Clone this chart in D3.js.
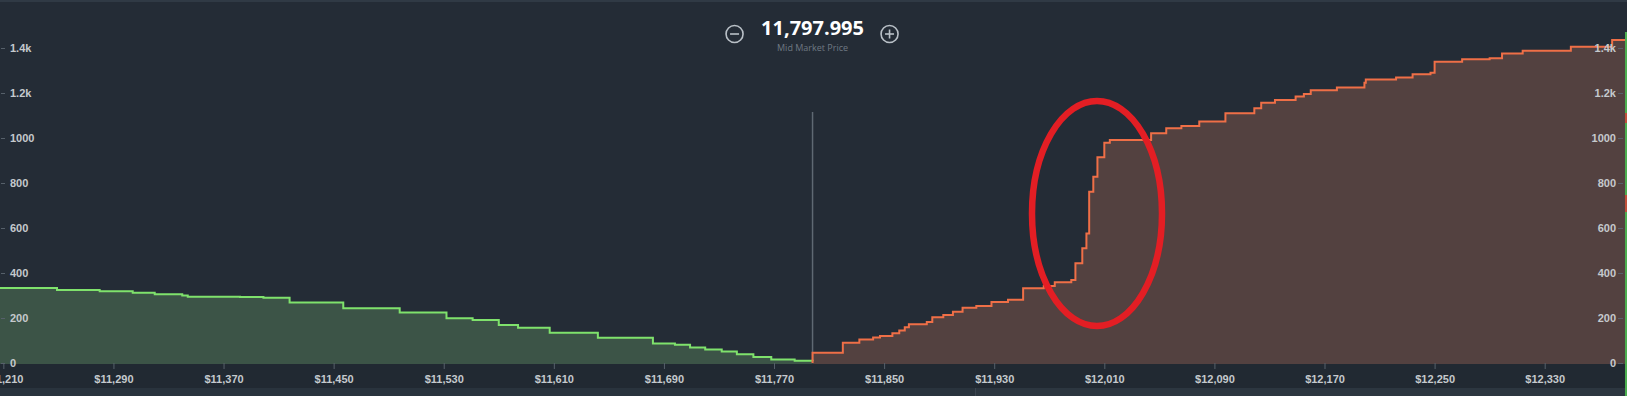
<!DOCTYPE html>
<html>
<head>
<meta charset="utf-8">
<script src="https://d3js.org/d3.v7.min.js"></script>
<style>
  html, body { margin: 0; padding: 0; background: #242c36; }
  svg { display: block; }
  .axis text { fill: #c5c9cd; font-family: "Liberation Sans", Arial, sans-serif; font-size: 11px; font-weight: bold; }
  .axis line { stroke: #56606a; }
  .axis .domain { display: none; }
</style>
</head>
<body>
<script>
// mid market price
const midPrice = 11797.995;

// bids (cumulative depth, step starts at price)
const bidPrices = [11207, 11249, 11280, 11304, 11320, 11340, 11344, 11382, 11399, 11418, 11457, 11498, 11532, 11551, 11570, 11584, 11607, 11642, 11682, 11698, 11709, 11720, 11732, 11743, 11755, 11768, 11785, 11798];
const bidDepth  = [333, 325, 319, 312, 306, 300, 295, 293, 290, 269, 243, 225, 199, 191, 169, 157, 134, 112, 87, 81, 69, 60, 51, 39, 27, 16, 10, 8];

// asks
const askPrices = [11798, 11798, 11820, 11832, 11842, 11847, 11856, 11861, 11865, 11868, 11881, 11885, 11893, 11900, 11907, 11917, 11928, 11940, 11951, 11966, 11974, 11986, 11989, 11994, 11997, 11999, 12002, 12005, 12010, 12014, 12044, 12055, 12066, 12079, 12098, 12119, 12124, 12134, 12149, 12155, 12160, 12179, 12199, 12200, 12222, 12234, 12247, 12250, 12270, 12290, 12299, 12314, 12349, 12379, 12392];
const askDepth  = [0, 46, 90, 105, 113, 120, 132, 144, 159, 172, 182, 203, 213, 228, 246, 253, 271, 281, 332, 342, 359, 369, 443, 510, 576, 761, 828, 914, 979, 991, 1021, 1043, 1053, 1073, 1110, 1132, 1157, 1169, 1184, 1196, 1212, 1224, 1246, 1260, 1269, 1283, 1290, 1339, 1350, 1354, 1376, 1388, 1406, 1436, 1436];

// axis ticks
const xTicks = [11210, 11290, 11370, 11450, 11530, 11610, 11690, 11770, 11850, 11930, 12010, 12090, 12170, 12250, 12330];
const yTicks = [0, 200, 400, 600, 800, 1000, 1200, 1400];
const yTickLabels = ["0", "200", "400", "600", "800", "1000", "1.2k", "1.4k"];

const width = 1627, height = 396;
const plotBottom = 363;

const svg = d3.select("body").append("svg")
    .attr("width", width)
    .attr("height", height);

// backgrounds
svg.append("rect").attr("width", width).attr("height", height).attr("fill", "#242c36");
svg.append("rect").attr("y", 0).attr("width", width).attr("height", 2).attr("fill", "#303a45");
svg.append("rect").attr("y", plotBottom + 1).attr("width", width).attr("height", 388 - plotBottom - 1).attr("fill", "#212932");
svg.append("rect").attr("y", 388).attr("width", width).attr("height", 8).attr("fill", "#29333d");
svg.append("rect").attr("x", 975).attr("y", 388).attr("width", width - 975).attr("height", 8).attr("fill", "#2c3640");
svg.append("line").attr("x1", 975.5).attr("x2", 975.5).attr("y1", 388).attr("y2", 396).attr("stroke", "#3b4550");

const x = d3.scaleLinear().domain([11207.57, 12389.8]).range([0, width]);
const y = d3.scaleLinear().domain([0, 1400]).range([plotBottom, 48]);

const bids = bidPrices.map((p, i) => ({ p: p, v: bidDepth[i] }));
const asks = askPrices.map((p, i) => ({ p: p, v: askDepth[i] }));

const area = d3.area().curve(d3.curveStepAfter)
    .x(d => x(d.p)).y0(y(0) + 1).y1(d => y(d.v));
const line = d3.line().curve(d3.curveStepAfter)
    .x(d => x(d.p)).y(d => y(d.v));

svg.append("path").datum(bids).attr("d", area).attr("fill", "#3c5447");
svg.append("path").datum(asks).attr("d", area).attr("fill", "#534140");

// mid price line
svg.append("line")
    .attr("x1", x(midPrice)).attr("x2", x(midPrice))
    .attr("y1", 112).attr("y2", plotBottom)
    .attr("stroke", "#5f6973").attr("stroke-width", 1.5);

svg.append("path").datum(bids).attr("d", line)
    .attr("fill", "none").attr("stroke", "#7fe26c").attr("stroke-width", 2);
svg.append("path").datum(asks).attr("d", line)
    .attr("fill", "none").attr("stroke", "#ef6f47").attr("stroke-width", 2);

// x axis
svg.append("g")
    .attr("class", "axis")
    .attr("transform", `translate(0,${plotBottom})`)
    .call(d3.axisBottom(x).tickValues(xTicks).tickSize(6).tickPadding(6)
      .tickFormat(d => "$" + d3.format(",")(d)));

// y axes (left and right)
const fmtY = d => yTickLabels[yTicks.indexOf(d)];
const leftAxis = svg.append("g")
    .attr("class", "axis")
    .attr("transform", "translate(1,0)")
    .call(d3.axisRight(y).tickValues(yTicks).tickSize(4).tickPadding(5).tickFormat(fmtY));
const rightAxis = svg.append("g")
    .attr("class", "axis")
    .attr("transform", "translate(1623,0)")
    .call(d3.axisLeft(y).tickValues(yTicks).tickSize(5).tickPadding(2).tickFormat(fmtY));

// right edge marker
svg.append("rect").attr("x", 1625).attr("y", 32).attr("width", 2).attr("height", height - 32).attr("fill", "#4caf50");
svg.append("rect").attr("x", 1625).attr("y", 113).attr("width", 2).attr("height", 10).attr("fill", "#c0503a");
svg.append("rect").attr("x", 1625).attr("y", 195).attr("width", 2).attr("height", 17).attr("fill", "#c0503a");

// header
const cx = x(midPrice);
svg.append("text")
    .attr("x", cx).attr("y", 35)
    .attr("text-anchor", "middle")
    .attr("font-family", "'Open Sans', sans-serif")
    .attr("font-weight", "bold").attr("font-size", 20)
    .attr("fill", "#ffffff")
    .text(d3.format(",.3f")(midPrice));
svg.append("text")
    .attr("x", cx).attr("y", 51)
    .attr("text-anchor", "middle")
    .attr("font-family", "'Open Sans', sans-serif")
    .attr("font-size", 9)
    .attr("fill", "#6f7983")
    .text("Mid Market Price");

const icon = (ix, plus) => {
  const g = svg.append("g").attr("transform", `translate(${ix},34)`)
      .attr("stroke", "#b9c0c7").attr("stroke-width", 1.6).attr("fill", "none");
  g.append("circle").attr("r", 8.5);
  g.append("line").attr("x1", -4.5).attr("x2", 4.5);
  if (plus) g.append("line").attr("y1", -4.5).attr("y2", 4.5);
};
icon(cx - 78, false);
icon(cx + 77, true);

// annotation ellipse
svg.append("ellipse")
    .attr("cx", 1097).attr("cy", 213.5)
    .attr("rx", 65).attr("ry", 112.5)
    .attr("fill", "none").attr("stroke", "#e31e24").attr("stroke-width", 6.5);
</script>
</body>
</html>
